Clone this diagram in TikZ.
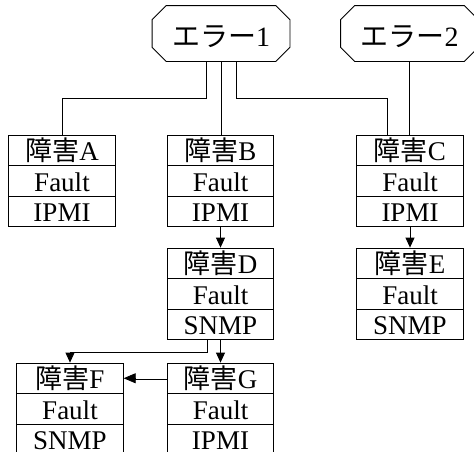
\documentclass[tikz,border=0pt]{standalone}
\usepackage{fontspec}
\setmainfont{Liberation Serif}
\newfontfamily\jp{Noto Sans CJK JP}
\usetikzlibrary{arrows.meta}
\begin{document}
\begin{tikzpicture}[x=1pt,y=-1pt,line width=0.8pt,
  cell/.style={draw,minimum width=106.5pt,minimum height=30.5pt,inner sep=0pt,
    text height=21pt,text depth=0pt,font=\fontsize{27}{27}\selectfont},
  err/.style={minimum width=137pt,minimum height=55pt,inner sep=0pt,
    text height=25pt,text depth=0pt,font=\fontsize{28}{28}\selectfont},
  tip/.style={-{Triangle[length=10pt,width=9pt]}},
  bigtip/.style={-{Triangle[length=12pt,width=10pt]}}]
\useasboundingbox (0,0) rectangle (474,451);
\clip (0,0) rectangle (474,451);
% error nodes
\node[err] (e1) at (221,33.5) {{\jp エラー}1};
\node[err] (e2) at (409.5,33.5) {{\jp エラー}2};
\foreach \n in {e1,e2}
  \draw ([xshift=14pt]\n.north west) -- ([xshift=-14pt]\n.north east)
    -- ([yshift=-14pt]\n.north east) -- ([yshift=14pt]\n.south east)
    -- ([xshift=-14pt]\n.south east) -- ([xshift=14pt]\n.south west)
    -- ([yshift=14pt]\n.south west) -- ([yshift=-14pt]\n.north west) -- cycle;
% boxes
\node[cell] (A1) at (62,150.25) {{\jp 障害}A};
\node[cell] (A2) at (62,180.75) {Fault};
\node[cell] (A3) at (62,211.25) {IPMI};
\node[cell] (B1) at (220.5,150.25) {{\jp 障害}B};
\node[cell] (B2) at (220.5,180.75) {Fault};
\node[cell] (B3) at (220.5,211.25) {IPMI};
\node[cell] (C1) at (410,150.25) {{\jp 障害}C};
\node[cell] (C2) at (410,180.75) {Fault};
\node[cell] (C3) at (410,211.25) {IPMI};
\node[cell] (D1) at (220.5,263.25) {{\jp 障害}D};
\node[cell] (D2) at (220.5,293.75) {Fault};
\node[cell] (D3) at (220.5,324.25) {SNMP};
\node[cell] (E1) at (410,263.25) {{\jp 障害}E};
\node[cell] (E2) at (410,293.75) {Fault};
\node[cell] (E3) at (410,324.25) {SNMP};
\node[cell] (F1) at (70,378.25) {{\jp 障害}F};
\node[cell] (F2) at (70,408.75) {Fault};
\node[cell] (F3) at (70,439.25) {SNMP};
\node[cell] (G1) at (220.5,378.25) {{\jp 障害}G};
\node[cell] (G2) at (220.5,408.75) {Fault};
\node[cell] (G3) at (220.5,439.25) {IPMI};
% connectors
\draw ([xshift=-14.5pt]e1.south) -- ++(0,37) -| (A1.north);
\draw (e1.south) -- (e1.south |- B1.north);
\draw ([xshift=15pt]e1.south) -- ++(0,37) -| ([xshift=-23pt]C1.north);
\draw (e2.south) -- (e2.south |- C1.north);
\draw[tip] (B3.south) -- (D1.north);
\draw[tip] (C3.south) -- (E1.north);
\draw[tip] ([xshift=-13.5pt]D3.south) -- ++(0,12) -| (F1.north);
\draw[tip] (D3.south) -- (G1.north);
\draw[double,double distance=1.8pt,line width=0.8pt,shorten >=10pt] (G1.west) -- (F1.east);
\draw[bigtip] ([xshift=12pt]F1.east) -- (F1.east);
\end{tikzpicture}
\end{document}
